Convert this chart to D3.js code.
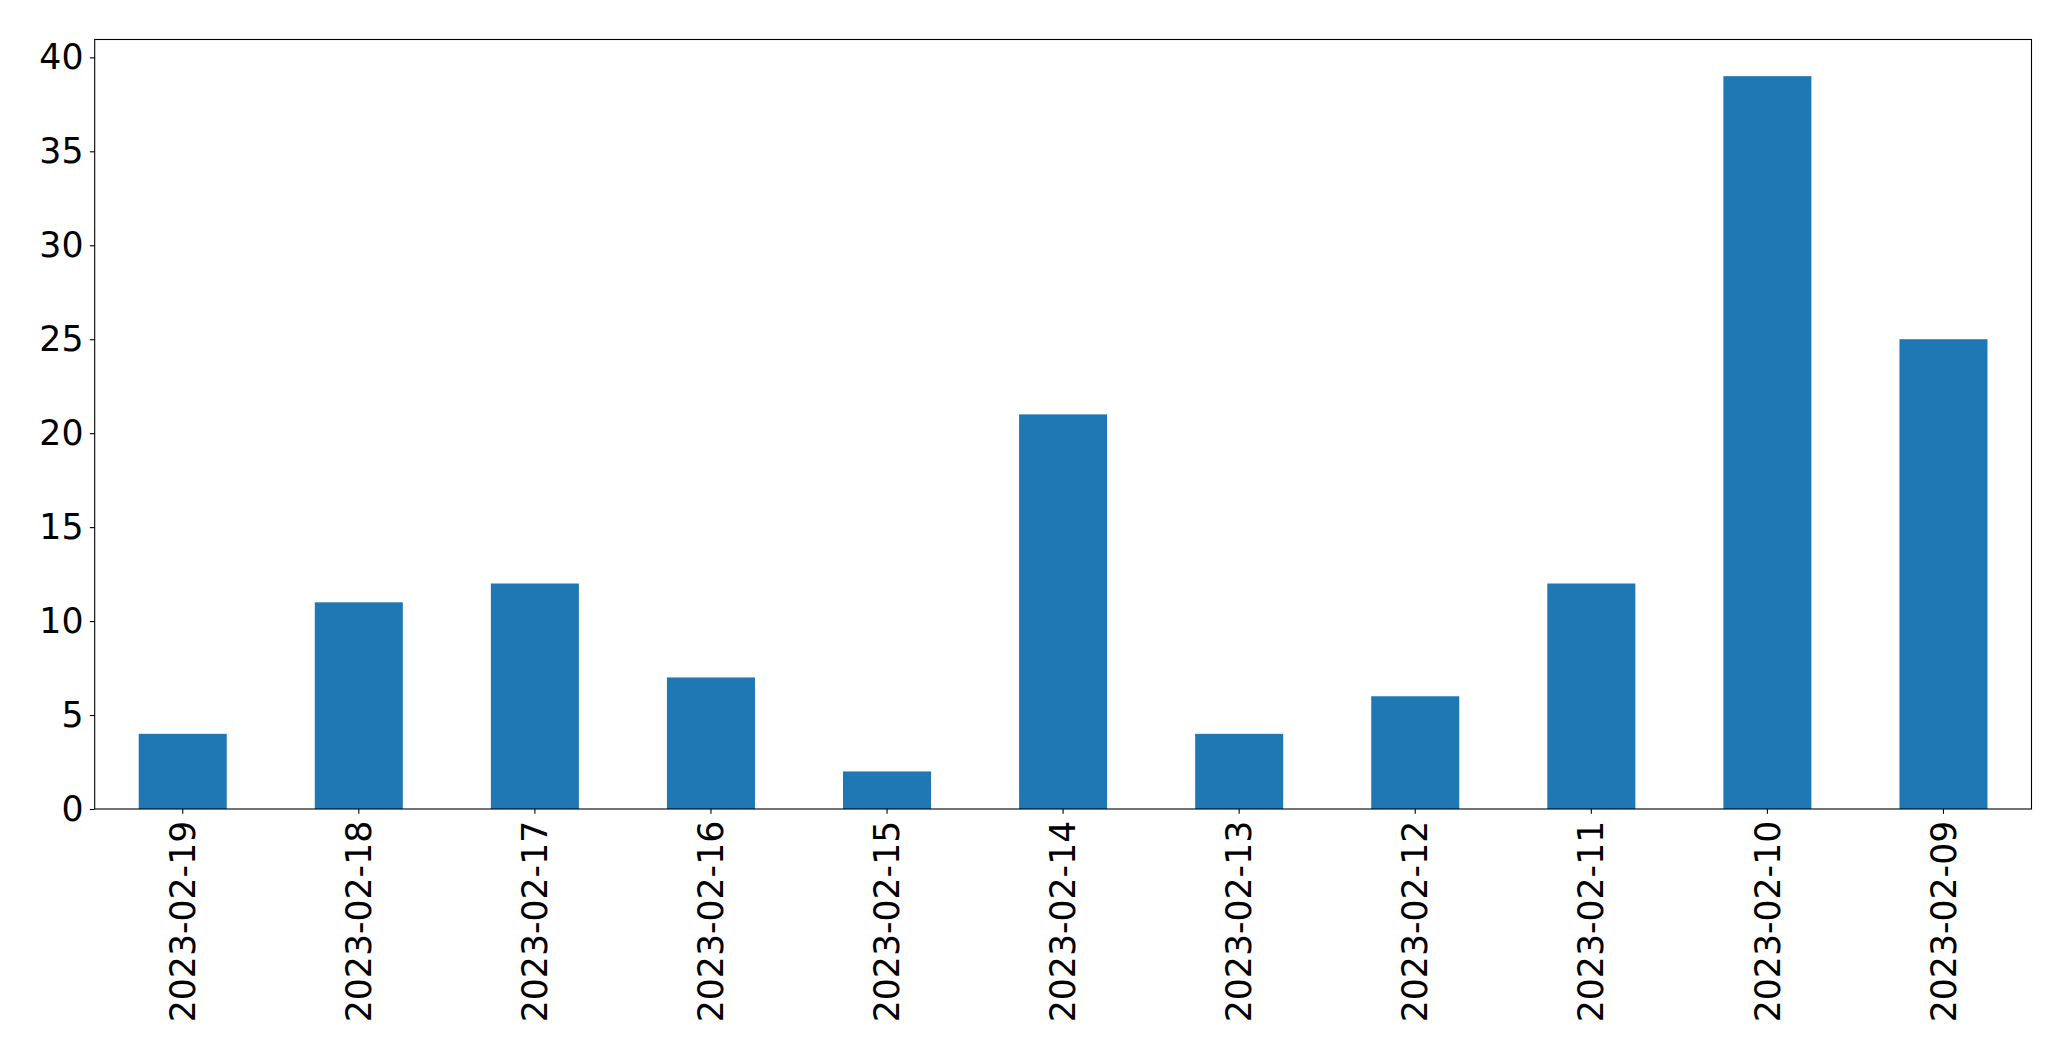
<!DOCTYPE html>
<html>
<head>
<meta charset="utf-8">
<script src="https://cdn.jsdelivr.net/npm/d3@7"></script>
<style>
  body { margin: 0; background: #fff; }
  text { font-family: "DejaVu Sans", sans-serif; }
</style>
</head>
<body>
<div id="chart"></div>
<script>
// data
var dates = ["2023-02-19", "2023-02-18", "2023-02-17", "2023-02-16", "2023-02-15",
    "2023-02-14", "2023-02-13", "2023-02-12", "2023-02-11", "2023-02-10", "2023-02-09"];
var counts = [4, 11, 12, 7, 2, 21, 4, 6, 12, 39, 25];
var yTicks = [0, 5, 10, 15, 20, 25, 30, 35, 40];

var svgWidth = 2071;
var svgHeight = 1061;

var margin = {
    top: 39.5,
    right: 39.5,
    bottom: 252,
    left: 94.7
};

var width = svgWidth - margin.left - margin.right;
var height = svgHeight - margin.top - margin.bottom;

var fontSize = 34.7;
var tickLen = 4.86;
var tickPad = 4.86;

var svg = d3.select("#chart")
    .append("svg")
    .attr("width", svgWidth)
    .attr("height", svgHeight);

var chartGroup = svg.append("g")
    .attr("transform", `translate(${margin.left}, ${margin.top})`);

var xBandScale = d3.scaleBand()
    .domain(dates)
    .range([0, width])
    .paddingInner(0.5)
    .paddingOuter(0.25);

var yLinearScale = d3.scaleLinear()
    .domain([0, d3.max(counts) * 1.05])
    .range([height, 0]);

// bars
chartGroup.selectAll("rect")
    .data(counts)
    .enter()
    .append("rect")
    .attr("x", (d, i) => xBandScale(dates[i]))
    .attr("y", d => yLinearScale(d))
    .attr("width", xBandScale.bandwidth())
    .attr("height", d => height - yLinearScale(d))
    .attr("fill", "#1f77b4");

// axes
var leftAxis = d3.axisLeft(yLinearScale)
    .tickValues(yTicks)
    .tickSize(tickLen)
    .tickPadding(tickPad + 1.5);

var bottomAxis = d3.axisBottom(xBandScale)
    .tickSize(tickLen)
    .tickSizeOuter(0);

var yAxis = chartGroup.append("g")
    .call(leftAxis);

yAxis.select(".domain").remove();
yAxis.selectAll("line").attr("stroke", "#000").attr("stroke-width", 1.1);
yAxis.selectAll("text")
    .attr("font-size", fontSize)
    .attr("font-family", "DejaVu Sans")
    .attr("fill", "#000");

var xAxis = chartGroup.append("g")
    .attr("transform", `translate(0, ${height})`)
    .call(bottomAxis);

xAxis.select(".domain").remove();
xAxis.selectAll("line").attr("stroke", "#000").attr("stroke-width", 1.1);
xAxis.selectAll("text")
    .attr("font-size", fontSize)
    .attr("font-family", "DejaVu Sans")
    .attr("fill", "#000")
    .attr("text-anchor", "end")
    .attr("transform", `translate(0, ${tickLen + tickPad + 2}) rotate(-90)`)
    .attr("x", 0)
    .attr("y", 0)
    .attr("dy", "0.35em");

// frame
chartGroup.append("rect")
    .attr("x", 0)
    .attr("y", 0)
    .attr("width", width)
    .attr("height", height)
    .attr("fill", "none")
    .attr("stroke", "#000")
    .attr("stroke-width", 1.1);
</script>
</body>
</html>
